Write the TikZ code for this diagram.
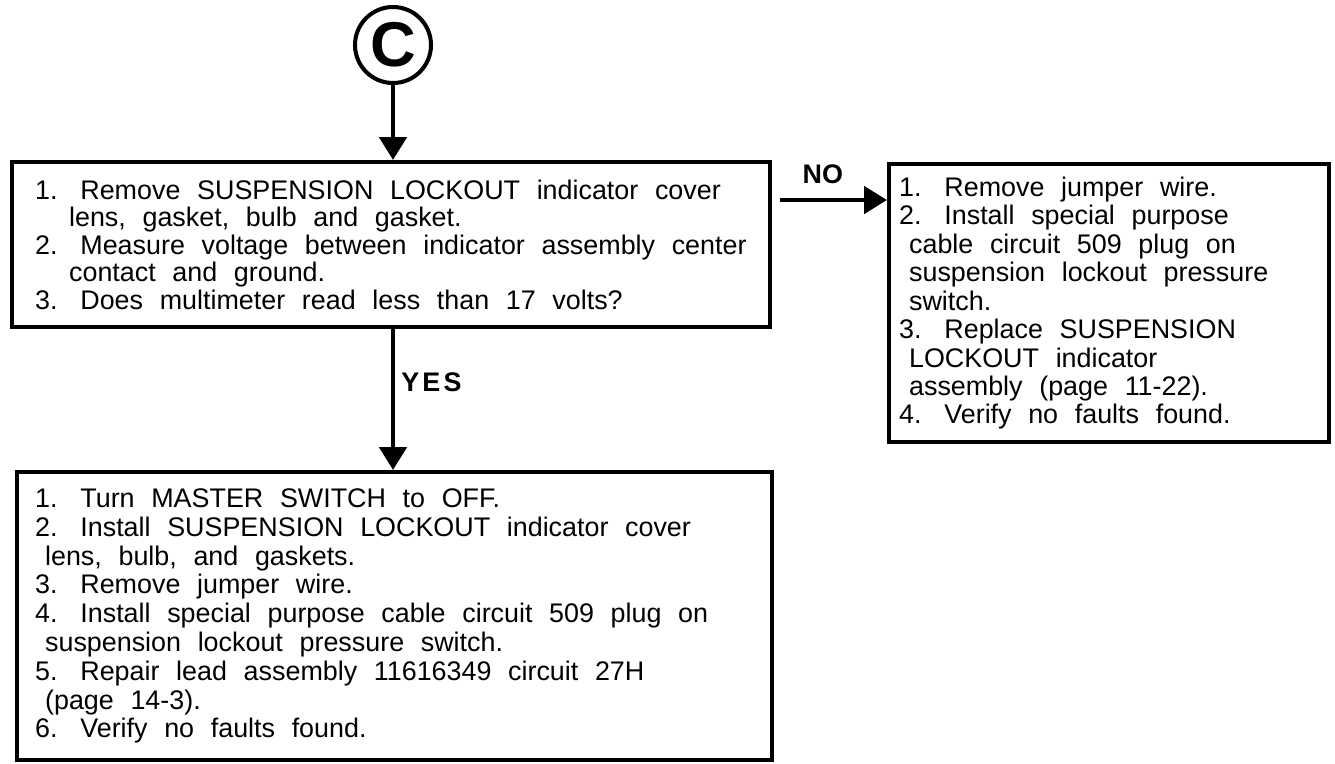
\documentclass[tikz,border=0pt]{standalone}
\usepackage{fontspec}
\setmainfont{Liberation Sans}
\usetikzlibrary{arrows.meta}

\newlength{\contind}
\newcommand{\cl}{\hspace*{\contind}}
% wide word spaces of the typed sheet
\newcommand{\wide}[1]{\setlength{\contind}{#1}\spaceskip=0.62em plus 0.1em\xspaceskip=0.85em\relax}

\begin{document}
\begin{tikzpicture}[
    font={\fontsize{15.3pt}{16.2pt}\selectfont},
    stepbox/.style={
        draw,
        line width=2.4pt,
        anchor=north west,
        align=left,
        inner ysep=0pt
    },
    label/.style={font={\fontsize{15.3pt}{16pt}\selectfont\bfseries}},
    arrow/.style={-{Triangle[length=0.46cm, width=0.54cm]}, line width=2.8pt}
]
\useasboundingbox (0,0) rectangle (26.7,-15.26);

% ============================================================
% CONNECTOR C
% ============================================================
\node[draw, circle, line width=2.3pt, minimum size=1.52cm, inner sep=0pt,
      font={\fontsize{36pt}{36pt}\selectfont\bfseries}] (conC) at (7.86,-0.9) {C};

% ============================================================
% CHECK STEP
% ============================================================
\node[stepbox, minimum height=3.3cm, text width=14.24cm, inner xsep=0.46cm,
      font={\fontsize{15.3pt}{15.6pt}\selectfont}]
    (check) at (0.2,-3.2) {\wide{0.68cm}%
    1. Remove SUSPENSION LOCKOUT indicator cover\\
    \cl lens, gasket, bulb and gasket.\\
    2. Measure voltage between indicator assembly center\\
    \cl contact and ground.\\
    3. Does multimeter read less than 17 volts?};

\draw[arrow] (conC) -- (conC |- check.north);

% ============================================================
% NO BRANCH
% ============================================================
\node[stepbox, minimum height=5.56cm, text width=8.4cm, inner xsep=0.2cm,
      font={\fontsize{15.3pt}{16.2pt}\selectfont}]
    (noFix) at (17.74,-3.24) {\wide{0.2cm}%
    1. Remove jumper wire.\\
    2. Install special purpose\\
    \cl cable circuit 509 plug on\\
    \cl suspension lockout pressure\\
    \cl switch.\\
    3. Replace SUSPENSION\\
    \cl LOCKOUT indicator\\
    \cl assembly (page 11-22).\\
    4. Verify no faults found.};

\coordinate (noStart) at (15.6,-4.0);
\draw[arrow] (noStart) -- node[label, above=0.16cm, pos=0.4] {NO} (noStart -| noFix.west);

% ============================================================
% YES BRANCH
% ============================================================
\node[stepbox, minimum height=5.76cm, text width=14.38cm, inner xsep=0.36cm,
      font={\fontsize{15.3pt}{16.4pt}\selectfont}]
    (yesFix) at (0.3,-9.4) {\wide{0.2cm}%
    1. Turn MASTER SWITCH to OFF.\\
    2. Install SUSPENSION LOCKOUT indicator cover\\
    \cl lens, bulb, and gaskets.\\
    3. Remove jumper wire.\\
    4. Install special purpose cable circuit 509 plug on\\
    \cl suspension lockout pressure switch.\\
    5. Repair lead assembly 11616349 circuit 27H\\
    \cl (page 14-3).\\
    6. Verify no faults found.};

\draw[arrow] (check.south -| conC) --
    node[label, right, pos=0.38] {\addfontfeature{LetterSpace=12}YES} (yesFix.north -| conC);

\end{tikzpicture}
\end{document}
